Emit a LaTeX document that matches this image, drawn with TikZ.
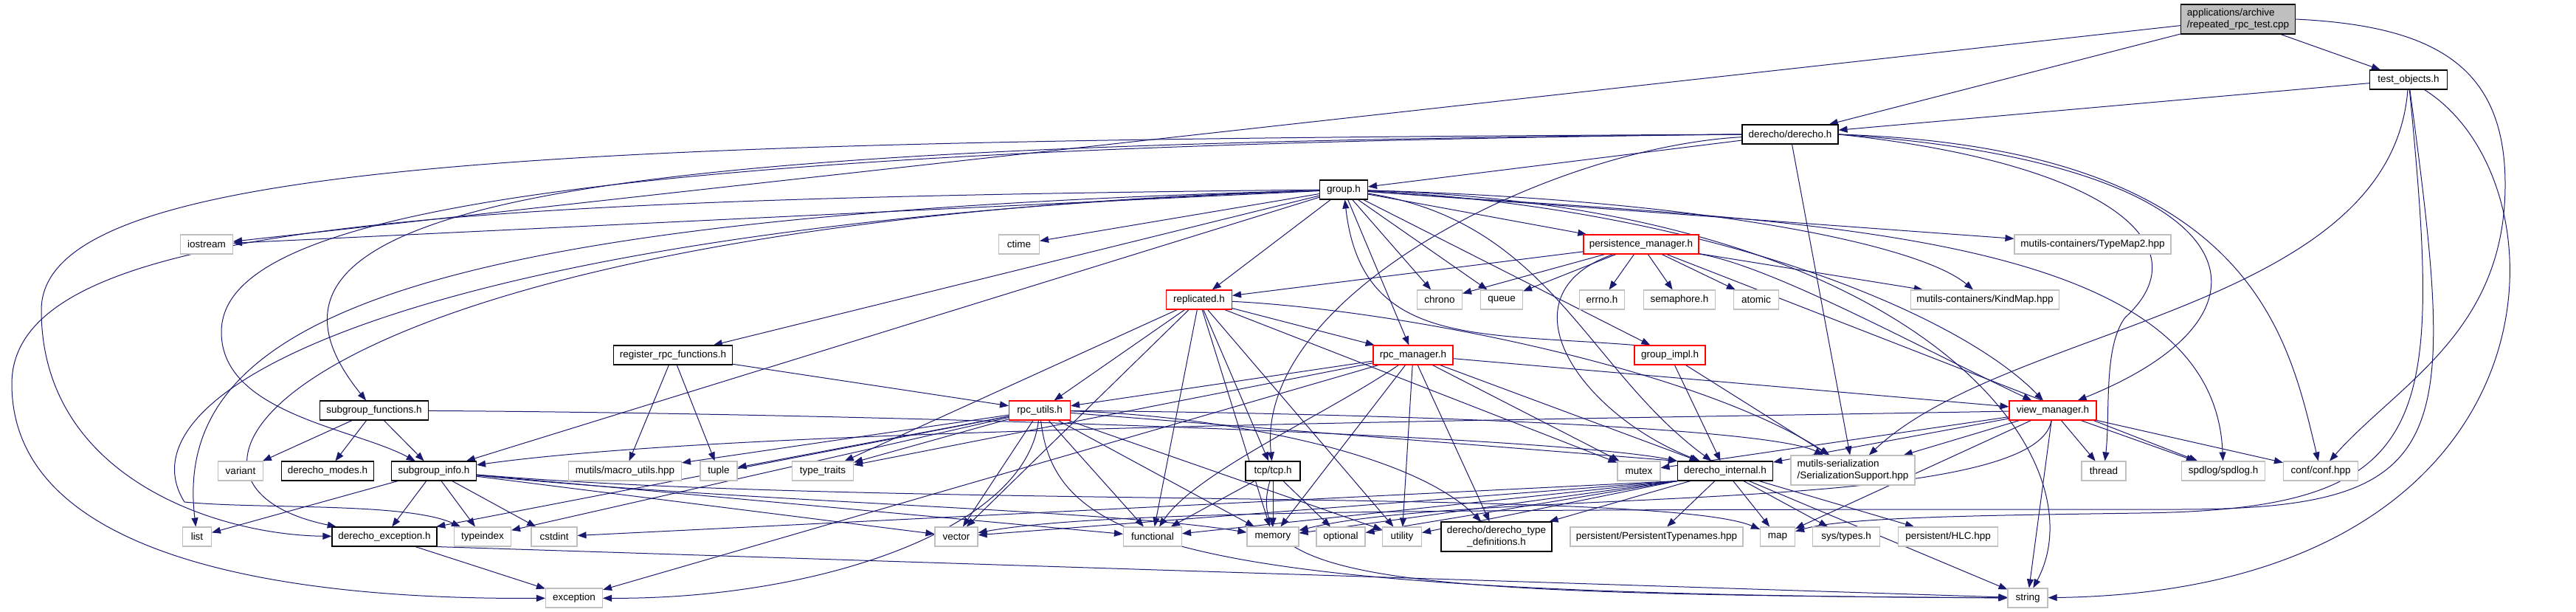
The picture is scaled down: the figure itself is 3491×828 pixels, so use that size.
\documentclass[tikz,border=0pt]{standalone}
\usepackage{fontspec}
\setmainfont{Liberation Sans}
\usepackage{xcolor}
\usepackage{tikz}
\usetikzlibrary{arrows.meta}
\definecolor{inclblue}{HTML}{191970}
\definecolor{sysgray}{HTML}{BFBFBF}
\definecolor{srcfill}{HTML}{BFBFBF}
\definecolor{cutred}{HTML}{FF0000}
\pgfdeclarelayer{bg}
\pgfsetlayers{bg,main}

\begin{document}
\begin{tikzpicture}[
          x=1pt, y=-1pt,
          filebox/.style={draw, line width=1.1pt, fill=white, inner sep=0pt,
            minimum height=26, font=\fontsize{13.5}{15.5}\selectfont},
          docfile/.style={filebox, draw=black},
          extfile/.style={filebox, draw=sysgray},
          cutfile/.style={filebox, draw=cutred},
          srcfile/.style={filebox, draw=black, fill=srcfill, align=left, minimum height=40},
          incl/.style={draw=inclblue, line width=1pt, -{Triangle[length=12pt,width=9pt]}}
      ]
        \useasboundingbox (0,0) rectangle (3491,828);

        % top of the graph
        \node[srcfile, minimum width=155] (app) at (3033,26) {applications/archive\\/repeated\_rpc\_test.cpp};
        \node[docfile, minimum width=105] (testobj) at (3264,108) {test\_objects.h};
        \node[docfile, minimum width=130] (derecho) at (2426,182) {derecho/derecho.h};
        \node[docfile, minimum width=65] (group) at (1821,257) {group.h};

        \node[extfile, minimum width=71] (iostream) at (280,331) {iostream};
        \node[extfile, minimum width=55] (ctime) at (1381,331) {ctime};
        \node[cutfile, minimum width=156] (persist) at (2224,331) {persistence\_manager.h};
        \node[extfile, minimum width=212] (typemap) at (2836,331) {mutils-containers/TypeMap2.hpp};

        \node[cutfile, minimum width=89] (replicated) at (1625,406) {replicated.h};
        \node[extfile, minimum width=61] (chrono) at (1951,406) {chrono};
        \node[extfile, minimum width=57] (queue) at (2035,406) {queue};
        \node[extfile, minimum width=61] (errno) at (2171,406) {errno.h};
        \node[extfile, minimum width=97] (semaphore) at (2276,406) {semaphore.h};
        \node[extfile, minimum width=61] (atomic) at (2380,406) {atomic};
        \node[extfile, minimum width=201] (kindmap) at (2690,406) {mutils-containers/KindMap.hpp};

        \node[docfile, minimum width=161] (register) at (912,481) {register\_rpc\_functions.h};
        \node[cutfile, minimum width=108] (rpcmgr) at (1915,481) {rpc\_manager.h};
        \node[cutfile, minimum width=96] (groupimpl) at (2263,481) {group\_impl.h};

        \node[docfile, minimum width=147] (sgfuncs) at (507,556) {subgroup\_functions.h};
        \node[cutfile, minimum width=83] (rpcutils) at (1409,556) {rpc\_utils.h};
        \node[cutfile, minimum width=118] (viewmgr) at (2782,556) {view\_manager.h};

        \node[extfile, minimum width=61] (variant) at (326,638) {variant};
        \node[docfile, minimum width=125] (modes) at (444,638) {derecho\_modes.h};
        \node[docfile, minimum width=115] (sginfo) at (588,638) {subgroup\_info.h};
        \node[extfile, minimum width=153] (macroutils) at (847,638) {mutils/macro\_utils.hpp};
        \node[extfile, minimum width=50] (tuple) at (974,638) {tuple};
        \node[extfile, minimum width=83] (typetraits) at (1115,638) {type\_traits};
        \node[docfile, minimum width=74] (tcp) at (1725,638) {tcp/tcp.h};
        \node[extfile, minimum width=58] (mutex) at (2221,638) {mutex};
        \node[docfile, minimum width=129] (internal) at (2338,638) {derecho\_internal.h};
        \node[extfile, minimum width=168, minimum height=40, align=left] (serial) at (2511,637) {mutils-serialization\\/SerializationSupport.hpp};
        \node[extfile, minimum width=60] (thread) at (2851,638) {thread};
        \node[extfile, minimum width=113] (spdlog) at (3013,638) {spdlog/spdlog.h};
        \node[extfile, minimum width=101] (conf) at (3145,638) {conf/conf.hpp};

        \node[extfile, minimum width=39] (list) at (267,727) {list};
        \node[docfile, minimum width=142] (dexcept) at (521,727) {derecho\_exception.h};
        \node[extfile, minimum width=77] (typeindex) at (654,727) {typeindex};
        \node[extfile, minimum width=62] (cstdint) at (751,727) {cstdint};
        \node[extfile, minimum width=58] (vector) at (1296,727) {vector};
        \node[extfile, minimum width=79] (functional) at (1562,727) {functional};
        \node[extfile, minimum width=70] (memory) at (1725,727) {memory};
        \node[extfile, minimum width=66] (optional) at (1817,727) {optional};
        \node[extfile, minimum width=53] (utility) at (1900,727) {utility};
        \node[docfile, minimum width=150, minimum height=40, align=center] (typedefs) at (2028,727) {derecho/derecho\_type\\\_definitions.h};
        \node[extfile, minimum width=234] (ptypenames) at (2245,727) {persistent/PersistentTypenames.hpp};
        \node[extfile, minimum width=47] (map) at (2409,727) {map};
        \node[extfile, minimum width=91] (systypes) at (2502,727) {sys/types.h};
        \node[extfile, minimum width=135] (hlc) at (2640,727) {persistent/HLC.hpp};

        \node[extfile, minimum width=77] (exception) at (778,810) {exception};
        \node[extfile, minimum width=54] (string) at (2748,810) {string};

        \begin{pgfonlayer}{bg}
        % repeated_rpc_test.cpp and test_objects.h
        \draw[incl] (app) -- (iostream);
        \draw[incl] (app) -- (derecho);
        \draw[incl] (app) -- (testobj);
        \draw[incl] (app.east) .. controls (3300,35) and (3395,90) .. (3395,250) .. controls (3395,450) and (3250,520) .. (conf);
        \draw[incl] (testobj) -- (derecho);
        \draw[incl] (testobj) .. controls (3240,420) and (2720,440) .. (serial);
        \draw[incl] (testobj) .. controls (3310,580) and (3300,690) .. (2900,695) .. controls (2700,698) and (2500,700) .. (map);
        \draw[incl] (testobj) .. controls (3330,600) and (3330,690) .. (2950,690) .. controls (2000,690) and (1500,690) .. (vector);
        \draw[incl] (testobj) .. controls (3490,250) and (3480,800) .. (string);

        % derecho.h
        \draw[incl] (derecho) -- (group);
        \draw[incl] (derecho.west) .. controls (900,195) and (260,250) .. (sgfuncs);
        \draw[incl] (derecho.west) .. controls (700,200) and (300,300) .. (300,450) .. controls (300,560) and (480,580) .. (sginfo);
        \draw[incl] (derecho.west) .. controls (800,190) and (56,210) .. (56,420) .. controls (56,650) and (300,725) .. (dexcept);
        \draw[incl] (derecho) .. controls (2100,200) and (1700,400) .. (tcp);
        \draw[incl] (derecho.east) .. controls (3050,220) and (3120,420) .. (viewmgr);
        \draw[incl] (derecho) -- (serial);
        \draw[incl] (derecho.east) .. controls (3050,200) and (3100,450) .. (conf);
        \draw[incl] (derecho.east) .. controls (2850,220) and (2990,330) .. (2880,430) .. controls (2850,470) and (2860,560) .. (thread);

        % group.h
        \draw[incl] (group) -- (iostream);
        \draw[incl] (group) -- (ctime);
        \draw[incl] (group) -- (typemap);
        \draw[incl] (group) -- (persist);
        \draw[incl] (group) -- (replicated);
        \draw[incl] (group) -- (chrono);
        \draw[incl] (group) -- (queue);
        \draw[incl] (group) .. controls (2300,270) and (2600,330) .. (kindmap);
        \draw[incl] (group) -- (register);
        \draw[incl] (group) -- (rpcmgr);
        \draw[incl] (group) -- (groupimpl);
        \draw[incl] (group) .. controls (2300,280) and (2650,420) .. (viewmgr);
        \draw[incl] (group) -- (sginfo);
        \draw[incl] (group) .. controls (2100,300) and (2150,500) .. (internal);
        \draw[incl] (group) .. controls (2400,300) and (3000,300) .. (spdlog);
        \draw[incl] (group) .. controls (600,290) and (230,420) .. (list);
        \draw[incl] (group) .. controls (400,300) and (150,650) .. (dexcept);
        \draw[incl] (group) .. controls (600,300) and (150,520) .. (250,680) .. controls (350,690) and (550,680) .. (typeindex);
        \draw[incl] (group.west) .. controls (600,270) and (16,300) .. (16,520) .. controls (16,790) and (500,812) .. (exception);
        \draw[incl] (group) .. controls (2600,280) and (2850,620) .. (string);

        % persistence_manager.h
        \draw[incl] (persist) -- (replicated);
        \draw[incl] (persist) -- (chrono);
        \draw[incl] (persist) -- (queue);
        \draw[incl] (persist) -- (errno);
        \draw[incl] (persist) -- (semaphore);
        \draw[incl] (persist) -- (atomic);
        \draw[incl] (persist) -- (kindmap);
        \draw[incl] (persist) .. controls (2400,360) and (2600,470) .. (viewmgr);
        \draw[incl] (persist) .. controls (2030,400) and (2140,560) .. (internal);
        \draw[incl] (persist) -- (spdlog);

        % replicated.h
        \draw[incl] (replicated) -- (rpcmgr);
        \draw[incl] (replicated) -- (rpcutils);
        \draw[incl] (replicated) -- (tcp);
        \draw[incl] (replicated) -- (typetraits);
        \draw[incl] (replicated) -- (vector);
        \draw[incl] (replicated) -- (functional);
        \draw[incl] (replicated) -- (memory);
        \draw[incl] (replicated) -- (utility);
        \draw[incl] (replicated) -- (mutex);
        \draw[incl] (replicated) .. controls (1900,420) and (2300,500) .. (serial);

        % register_rpc_functions.h
        \draw[incl] (register) -- (macroutils);
        \draw[incl] (register) -- (tuple);
        \draw[incl] (register) -- (rpcutils);

        % rpc_manager.h
        \draw[incl] (rpcmgr) -- (rpcutils);
        \draw[incl] (rpcmgr) -- (viewmgr);
        \draw[incl] (rpcmgr) -- (internal);
        \draw[incl] (rpcmgr) -- (mutex);
        \draw[incl] (rpcmgr) .. controls (1800,560) and (1620,640) .. (functional);
        \draw[incl] (rpcmgr) -- (memory);
        \draw[incl] (rpcmgr) -- (utility);
        \draw[incl] (rpcmgr) -- (typedefs);
        \draw[incl] (rpcmgr) -- (typetraits);
        \draw[incl] (rpcmgr) -- (exception);

        % group_impl.h
        \draw[incl] (groupimpl.north west) .. controls (2000,450) and (1845,470) .. (group);
        \draw[incl] (groupimpl) -- (internal);
        \draw[incl] (groupimpl) -- (serial);

        % subgroup_functions.h
        \draw[incl] (sgfuncs) -- (variant);
        \draw[incl] (sgfuncs) -- (modes);
        \draw[incl] (sgfuncs) -- (sginfo);
        \draw[incl] (sgfuncs) .. controls (1200,560) and (2100,590) .. (internal.north west);

        % rpc_utils.h
        \draw[incl] (rpcutils) -- (macroutils);
        \draw[incl] (rpcutils) -- (tuple);
        \draw[incl] (rpcutils) -- (typetraits);
        \draw[incl] (rpcutils) -- (dexcept);
        \draw[incl] (rpcutils) -- (typeindex);
        \draw[incl] (rpcutils) -- (vector);
        \draw[incl] (rpcutils) -- (functional);
        \draw[incl] (rpcutils) -- (memory);
        \draw[incl] (rpcutils) -- (utility);
        \draw[incl] (rpcutils) .. controls (1600,560) and (1900,600) .. (typedefs);
        \draw[incl] (rpcutils) -- (internal.north west);
        \draw[incl] (rpcutils) .. controls (1900,560) and (2400,580) .. (serial);
        \draw[incl] (rpcutils) .. controls (1390,720) and (1100,812) .. (exception);
        \draw[incl] (rpcutils) .. controls (1430,740) and (1600,805) .. (string);

        % subgroup_info.h
        \draw[incl] (sginfo) -- (list);
        \draw[incl] (sginfo) -- (dexcept);
        \draw[incl] (sginfo) -- (typeindex);
        \draw[incl] (sginfo) -- (cstdint);
        \draw[incl] (sginfo) -- (vector);
        \draw[incl] (sginfo) -- (functional);
        \draw[incl] (sginfo) .. controls (1000,680) and (1500,690) .. (memory);
        \draw[incl] (sginfo) .. controls (1200,690) and (2250,660) .. (map);

        % tcp/tcp.h
        \draw[incl] (tcp) -- (functional);
        \draw[incl] (tcp) -- (memory);
        \draw[incl] (tcp) -- (optional);
        \draw[incl] (tcp) .. controls (1680,790) and (1900,805) .. (string);

        % view_manager.h
        \draw[incl] (viewmgr) .. controls (2000,570) and (1000,580) .. (sginfo);
        \draw[incl] (viewmgr) -- (mutex);
        \draw[incl] (viewmgr) -- (internal);
        \draw[incl] (viewmgr) -- (serial);
        \draw[incl] (viewmgr) -- (thread);
        \draw[incl] (viewmgr) -- (spdlog);
        \draw[incl] (viewmgr) -- (conf);
        \draw[incl] (viewmgr) -- (string);
        \draw[incl] (viewmgr) -- (map);
        \draw[incl] (viewmgr) .. controls (2760,700) and (2000,660) .. (memory);

        % derecho_internal.h
        \draw[incl] (internal) -- (typedefs);
        \draw[incl] (internal.south west) -- (utility);
        \draw[incl] (internal.south west) -- (optional);
        \draw[incl] (internal.south west) -- (memory);
        \draw[incl] (internal.south west) -- (functional);
        \draw[incl] (internal.south west) -- (vector);
        \draw[incl] (internal.south west) -- (cstdint);
        \draw[incl] (internal) -- (ptypenames);
        \draw[incl] (internal) -- (map);
        \draw[incl] (internal) -- (systypes);
        \draw[incl] (internal) -- (hlc);
        \draw[incl] (internal) -- (string);

        % derecho_exception.h
        \draw[incl] (dexcept) -- (exception);
        \draw[incl] (dexcept.south east) -- (string);
        \end{pgfonlayer}
      \end{tikzpicture}
\end{document}
